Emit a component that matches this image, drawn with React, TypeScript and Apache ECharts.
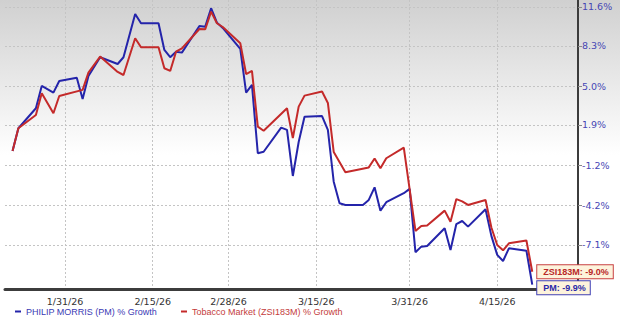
import React, { useEffect, useRef } from "react";
import * as echarts from "echarts";

// ---- data ----
const pmName = "PHILIP MORRIS (PM) % Growth";
const zsiName = "Tobacco Market (ZSI183M) % Growth";

const pmDates = [
  "2026-01-22", "2026-01-23", "2026-01-26", "2026-01-27", "2026-01-29", "2026-01-30",
  "2026-02-02", "2026-02-03", "2026-02-04", "2026-02-06", "2026-02-09", "2026-02-10",
  "2026-02-12", "2026-02-13", "2026-02-16", "2026-02-17", "2026-02-18", "2026-02-19",
  "2026-02-20", "2026-02-23", "2026-02-24", "2026-02-25", "2026-02-26", "2026-02-27",
  "2026-03-02", "2026-03-03", "2026-03-04", "2026-03-05", "2026-03-06", "2026-03-09",
  "2026-03-10", "2026-03-11", "2026-03-12", "2026-03-13", "2026-03-16", "2026-03-17",
  "2026-03-18", "2026-03-19", "2026-03-20", "2026-03-23", "2026-03-24", "2026-03-25",
  "2026-03-26", "2026-03-27", "2026-03-30", "2026-03-31", "2026-04-01", "2026-04-02",
  "2026-04-03", "2026-04-06", "2026-04-07", "2026-04-08", "2026-04-09", "2026-04-10",
  "2026-04-13", "2026-04-14", "2026-04-15", "2026-04-16", "2026-04-17", "2026-04-20",
  "2026-04-21",
];
const pmValues = [
  -0.12, 1.64, 3.22, 5.01, 4.47, 5.41,
  5.68, 3.96, 5.82, 7.36, 6.8, 7.36,
  11.0, 10.21, 10.21, 7.96, 7.36, 7.82,
  7.74, 9.98, 9.92, 11.49, 10.26, 9.81,
  8.05, 4.47, 5.09, -0.3, -0.18, 1.69,
  1.51, -2.03, 0.57, 2.55, 2.6, 1.51,
  -2.46, -4.07, -4.19, -4.19, -3.82, -2.88,
  -4.61, -3.99, -3.32, -3.0, -7.62, -7.22,
  -7.17, -5.9, -7.46, -5.59, -5.37, -5.78,
  -4.51, -6.45, -7.81, -8.24, -7.34, -7.51,
  -9.9,
];

const zsiDates = [
  "2026-01-22", "2026-01-23", "2026-01-26", "2026-01-27", "2026-01-29", "2026-01-30",
  "2026-02-03", "2026-02-04", "2026-02-06", "2026-02-09", "2026-02-10", "2026-02-12",
  "2026-02-13", "2026-02-16", "2026-02-17", "2026-02-18", "2026-02-19", "2026-02-20",
  "2026-02-23", "2026-02-24", "2026-02-25", "2026-02-26", "2026-02-27", "2026-03-02",
  "2026-03-03", "2026-03-04", "2026-03-05", "2026-03-06", "2026-03-10", "2026-03-11",
  "2026-03-12", "2026-03-13", "2026-03-16", "2026-03-17", "2026-03-18", "2026-03-20",
  "2026-03-24", "2026-03-25", "2026-03-26", "2026-03-27", "2026-03-30", "2026-04-01",
  "2026-04-02", "2026-04-03", "2026-04-06", "2026-04-07", "2026-04-08", "2026-04-09",
  "2026-04-10", "2026-04-13", "2026-04-14", "2026-04-15", "2026-04-16", "2026-04-17",
  "2026-04-20", "2026-04-21",
];
const zsiValues = [
  -0.12, 1.64, 2.69, 4.42, 2.82, 4.2,
  4.69, 6.09, 7.41, 6.15, 5.9, 8.94,
  8.19, 8.19, 6.45, 6.23, 7.82, 8.1,
  9.72, 9.7, 11.2, 10.21, 9.89, 8.52,
  5.98, 6.23, 1.77, 1.45, 3.22, 0.88,
  3.35, 4.23, 4.56, 3.64, -0.2, -1.75,
  -1.38, -0.7, -1.44, -0.68, 0.13, -6.09,
  -5.73, -5.69, -4.61, -5.42, -3.76, -3.93,
  -4.19, -3.82, -5.84, -7.1, -7.48, -6.98,
  -6.78, -9.0,
];

const yTickLabels = [11.6, 8.3, 5.0, 1.9, -1.2, -4.2, -7.1];
const yRange = [-10.2, 12.2];
const xTickDates = ["2026-01-31", "2026-02-15", "2026-02-28", "2026-03-15", "2026-03-31", "2026-04-15"];
const xRange = ["2026-01-20T17", "2026-04-28T20"];

// ---- helpers ----
const DAY = 86400000;
function dayNum(s: string): number {
  const [datePart, hourPart] = s.split("T");
  const [y, m, d] = datePart.split("-").map(Number);
  return Date.UTC(y, m - 1, d, hourPart ? Number(hourPart) : 0) / DAY;
}
const toLog = (p: number) => Math.log(1 + p / 100);
const fromLog = (v: number) => (Math.exp(v) - 1) * 100;

const BLUE = "#2424aa";
const RED = "#c42a2a";

export default function App() {
  const ref = useRef<HTMLDivElement>(null);

  useEffect(() => {
    if (!ref.current) return;
    const chart = echarts.init(ref.current, undefined, { renderer: "svg" });

    const pmData = pmDates.map((d, i) => [dayNum(d), toLog(pmValues[i])]);
    const zsiData = zsiDates.map((d, i) => [dayNum(d), toLog(zsiValues[i])]);
    const pmLast = pmValues[pmValues.length - 1];
    const zsiLast = zsiValues[zsiValues.length - 1];

    const gridLine = { show: true, lineStyle: { color: "#c4c4c4", type: [2, 2] as any, width: 1 } };
    const xTicks = xTickDates.map(dayNum);
    const yTicks = yTickLabels.map(toLog);

    chart.setOption({
      animation: false,
      backgroundColor: {
        type: "linear",
        x: 0,
        y: 0,
        x2: 0,
        y2: 1,
        colorStops: [
          { offset: 0, color: "#d0d0d0" },
          { offset: 0.48, color: "#ffffff" },
          { offset: 1, color: "#ffffff" },
        ],
      },
      grid: { left: 5, right: 42, top: 0, bottom: 34 },
      legend: {
        left: 15,
        top: 307,
        padding: 0,
        icon: "rect",
        itemWidth: 6,
        itemHeight: 2,
        itemGap: 24,
        textStyle: { fontSize: 9, fontFamily: "Arial, 'Liberation Sans'" },
        data: [
          { name: pmName, textStyle: { color: "#3a3ab4" } },
          { name: zsiName, textStyle: { color: "#c43c3c" } },
        ],
      },
      xAxis: {
        type: "value",
        min: dayNum(xRange[0]),
        max: dayNum(xRange[1]),
        axisLine: { show: true, onZero: false, lineStyle: { color: "#3c3c3c", width: 3 } },
        axisTick: { show: false, customValues: xTicks },
        axisLabel: {
          customValues: xTicks,
          formatter: (v: number) => {
            const d = new Date(Math.round(v * DAY));
            return `${d.getUTCMonth() + 1}/${d.getUTCDate()}/${String(d.getUTCFullYear()).slice(2)}`;
          },
          color: "#333333",
          fontSize: 9.5,
          fontFamily: "'DejaVu Sans'",
          margin: 7,
        },
        splitLine: gridLine,
      },
      yAxis: {
        type: "value",
        position: "right",
        min: toLog(yRange[0]),
        max: toLog(yRange[1]),
        axisLine: { show: true, onZero: false, lineStyle: { color: "#3c3c3c", width: 2 } },
        axisTick: { show: true, length: 4, lineStyle: { color: "#888888" }, customValues: yTicks },
        axisLabel: {
          customValues: yTicks,
          formatter: (v: number) => `${fromLog(v).toFixed(1)}%`,
          color: "#4646b4",
          fontSize: 9.5,
          fontFamily: "'DejaVu Sans'",
          margin: 4,
        },
        splitLine: gridLine,
      },
      series: [
        {
          name: pmName,
          type: "line",
          data: pmData,
          symbol: "none",
          showSymbol: false,
          lineStyle: { color: BLUE, width: 2 },
          itemStyle: { color: BLUE },
          z: 2,
          endLabel: {
            show: true,
            formatter: () => `PM: ${pmLast.toFixed(1)}%`,
            color: "#2a2aa8",
            fontSize: 9,
            fontWeight: "bold",
            fontFamily: "Arial, 'Liberation Sans'",
            backgroundColor: "#fdf3dc",
            borderColor: "#4040b4",
            borderWidth: 1,
            padding: [2, 4, 2, 6],
            distance: 5,
            offset: [0, 3],
          },
        },
        {
          name: zsiName,
          type: "line",
          data: zsiData,
          symbol: "none",
          showSymbol: false,
          lineStyle: { color: RED, width: 2 },
          itemStyle: { color: RED },
          z: 3,
          endLabel: {
            show: true,
            formatter: () => `ZSI183M: ${zsiLast.toFixed(1)}%`,
            color: "#b82828",
            fontSize: 9,
            fontWeight: "bold",
            fontFamily: "Arial, 'Liberation Sans'",
            backgroundColor: "#fdf3dc",
            borderColor: "#c84040",
            borderWidth: 1,
            padding: [2, 4, 2, 6],
            distance: 5,
          },
        },
      ],
    });

    return () => chart.dispose();
  }, []);

  return (
    <div
      ref={ref}
      style={{ position: "fixed", left: 0, top: 0, width: 620, height: 323 }}
    />
  );
}
